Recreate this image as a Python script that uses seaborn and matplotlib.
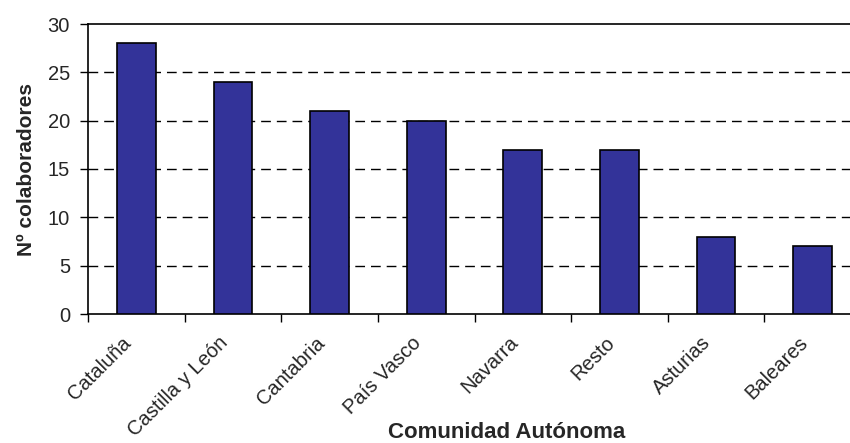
import matplotlib
matplotlib.use("Agg")
import matplotlib.pyplot as plt
import matplotlib.transforms as mtransforms
import seaborn as sns
import pandas as pd
import numpy as np

comunidades = ["Cataluña", "Castilla y León", "Cantabria", "País Vasco",
               "Navarra", "Resto", "Asturias", "Baleares"]
colaboradores = [28, 24, 21, 20, 17, 17, 8, 7]
y_ticks = [0, 5, 10, 15, 20, 25, 30]

sns.set_style("white")
plt.rcParams["font.family"] = ["Liberation Sans", "DejaVu Sans"]

df = pd.DataFrame({"comunidad": comunidades, "n": colaboradores})

fig = plt.figure(figsize=(8.5, 4.43), dpi=100)
ax = fig.add_axes([88 / 850, 1 - 314 / 443, 773 / 850, 290 / 443])

sns.barplot(data=df, x="comunidad", y="n", color="#333399", width=0.4,
            edgecolor="black", linewidth=1.2, saturation=1, ax=ax, zorder=3)

ax.set_xlim(-0.5, len(comunidades) - 0.5)
ax.set_ylim(0, 30)
ax.set_yticks(y_ticks)
ax.set_yticklabels([str(t) for t in y_ticks], fontsize=14.5)

# dashed horizontal gridlines
for t in y_ticks[1:-1]:
    ax.axhline(t, color="black", lw=1, linestyle=(0, (7, 4.3)), zorder=1)

for s in ["left", "bottom", "top"]:
    ax.spines[s].set_color("black")
    ax.spines[s].set_linewidth(1.2)
ax.spines["right"].set_visible(False)

# category labels at centres, tick marks at category boundaries
ax.set_xticks(np.arange(len(comunidades)))
ax.set_xticklabels(comunidades, rotation=45, ha="right", va="center",
                   rotation_mode="anchor", fontsize=14.5)
ax.tick_params(axis="x", which="major", length=0, pad=20)
shift = mtransforms.ScaledTranslation(-8 / 100, 2 / 100, fig.dpi_scale_trans)
for lbl in ax.get_xticklabels():
    lbl.set_transform(lbl.get_transform() + shift)
ax.set_xticks(np.arange(len(comunidades) + 1) - 0.5, minor=True)
ax.tick_params(axis="x", which="minor", length=6, width=1, color="black",
               direction="out", bottom=True)
ax.tick_params(axis="y", which="major", length=6, width=1, color="black",
               direction="out", left=True, pad=7)

ax.set_xlabel("Comunidad Autónoma", fontsize=16, fontweight="bold", va="center")
ax.set_ylabel("Nº colaboradores", fontsize=15, fontweight="bold", va="center")
ax.xaxis.set_label_coords(0.541, -0.407)
ax.yaxis.set_label_coords(-0.079, 0.5)

fig.savefig("out.png", dpi=100)
